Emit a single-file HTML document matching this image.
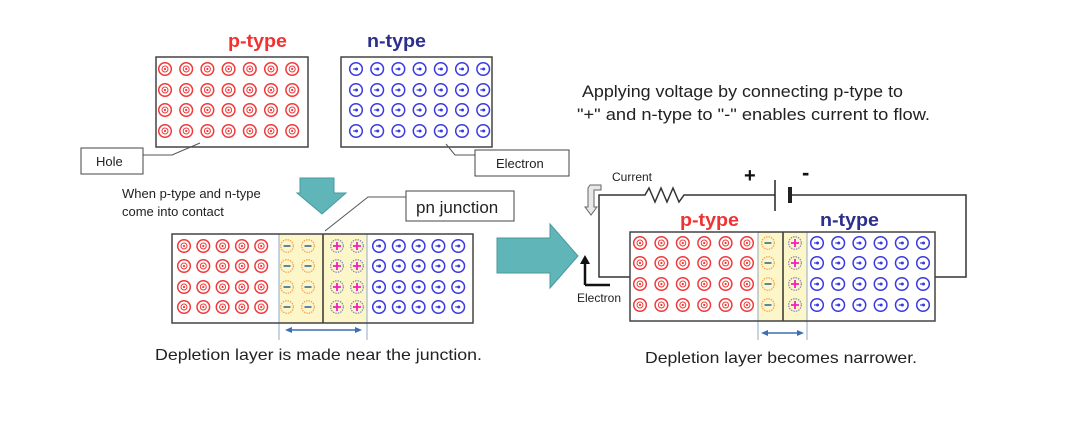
<!DOCTYPE html>
<html><head><meta charset="utf-8"><style>
html,body{margin:0;padding:0;background:#fff;}
svg{display:block;font-family:"Liberation Sans",sans-serif;}
</style></head><body>
<svg id="s" width="1086" height="424" viewBox="0 0 1086 424" xmlns="http://www.w3.org/2000/svg">
<rect width="1086" height="424" fill="#fff"/>
<!-- titles -->
<text x="228" y="47" font-size="18" font-weight="bold" fill="#f03232" textLength="59" lengthAdjust="spacingAndGlyphs">p-type</text>
<text x="367" y="47" font-size="18" font-weight="bold" fill="#2c2f8c" textLength="59" lengthAdjust="spacingAndGlyphs">n-type</text>
<!-- top boxes -->
<rect x="156" y="57" width="152" height="90" fill="#fff" stroke="#444" stroke-width="1.5"/>
<rect x="341" y="57" width="151" height="90" fill="#fff" stroke="#444" stroke-width="1.5"/>
<!-- Hole label -->
<polyline points="143,155 172,155 200,143" fill="none" stroke="#555" stroke-width="1"/>
<rect x="81" y="148" width="62" height="26" fill="#fff" stroke="#444" stroke-width="1"/>
<text x="96" y="166" font-size="13" fill="#222">Hole</text>
<!-- Electron label -->
<polyline points="475,155 455,155 446,144" fill="none" stroke="#555" stroke-width="1"/>
<rect x="475" y="150" width="94" height="26" fill="#fff" stroke="#444" stroke-width="1"/>
<text x="496" y="168" font-size="13" fill="#222">Electron</text>
<!-- down arrow -->
<polygon points="300,178 334,178 334,193 346,193 322,214 297,193 300,193" fill="#5fb5b8" stroke="#4a9a9e" stroke-width="1"/>
<text x="122" y="198" font-size="13" fill="#222">When p-type and n-type</text>
<text x="122" y="216" font-size="13" fill="#222">come into contact</text>
<!-- pn junction -->
<polyline points="406,197 368,197 325,231" fill="none" stroke="#555" stroke-width="1"/>
<rect x="406" y="191" width="108" height="30" fill="#fff" stroke="#444" stroke-width="1"/>
<text x="416" y="213" font-size="17" fill="#222">pn junction</text>
<!-- middle box -->
<rect x="279" y="234" width="88" height="89" fill="#fdf6c8"/>
<line x1="279" y1="234" x2="279" y2="340" stroke="#8fa8c8" stroke-width="1"/>
<line x1="367" y1="234" x2="367" y2="340" stroke="#8fa8c8" stroke-width="1"/>
<line x1="323" y1="234" x2="323" y2="323" stroke="#333" stroke-width="1.5"/>
<rect x="172" y="234" width="301" height="89" fill="none" stroke="#444" stroke-width="1.5"/>
<line x1="288" y1="330" x2="358" y2="330" stroke="#3d6fb0" stroke-width="1.5"/>
<polygon points="285,330 292,327 292,333" fill="#3d6fb0"/>
<polygon points="362,330 355,327 355,333" fill="#3d6fb0"/>
<text x="155" y="360" font-size="16" fill="#222" textLength="327" lengthAdjust="spacingAndGlyphs">Depletion layer is made near the junction.</text>
<!-- big right arrow -->
<polygon points="497,238 550,238 550,224 578,256 550,288 550,273 497,273" fill="#5fb5b8" stroke="#4a9a9e" stroke-width="1"/>
<!-- top right text -->
<text x="582" y="97" font-size="16.5" fill="#222" textLength="321" lengthAdjust="spacingAndGlyphs">Applying voltage by connecting p-type to</text>
<text x="577" y="120" font-size="16.5" fill="#222" textLength="353" lengthAdjust="spacingAndGlyphs">"+" and n-type to "-" enables current to flow.</text>
<!-- circuit -->
<polyline points="630,277 599,277 599,195 640,195" fill="none" stroke="#333" stroke-width="1.5"/>
<polyline points="640,195 645,195 649,188 655,202 661,188 667,202 673,188 679,202 684,195 775,195" fill="none" stroke="#333" stroke-width="1.5"/>
<polyline points="790,195 966,195 966,277 935,277" fill="none" stroke="#333" stroke-width="1.5"/>
<line x1="775" y1="180" x2="775" y2="211" stroke="#222" stroke-width="1.5"/>
<line x1="790" y1="187" x2="790" y2="203" stroke="#222" stroke-width="4"/>
<text x="744" y="182" font-size="20" font-weight="bold" fill="#111">+</text>
<text x="802" y="180" font-size="22" font-weight="bold" fill="#111">-</text>
<text x="612" y="181" font-size="12" fill="#222">Current</text>
<polygon points="590,185 601,185 601,190 594,190 594,207 597,207 591,215 585,207 588,207 588,188" fill="#e8e8e8" stroke="#666" stroke-width="1"/>
<polyline points="585,285 585,262" fill="none" stroke="#111" stroke-width="2.5"/>
<polyline points="585,285 610,285" fill="none" stroke="#111" stroke-width="2.5"/>
<polygon points="580,264 585,255 590,264" fill="#111"/>
<text x="577" y="302" font-size="12" fill="#222">Electron</text>
<text x="680" y="226" font-size="18" font-weight="bold" fill="#f03232" textLength="59" lengthAdjust="spacingAndGlyphs">p-type</text>
<text x="820" y="226" font-size="18" font-weight="bold" fill="#2c2f8c" textLength="59" lengthAdjust="spacingAndGlyphs">n-type</text>
<!-- right box -->
<rect x="758" y="232" width="49" height="89" fill="#fdf6c8"/>
<line x1="758" y1="232" x2="758" y2="340" stroke="#8fa8c8" stroke-width="1"/>
<line x1="807" y1="232" x2="807" y2="340" stroke="#8fa8c8" stroke-width="1"/>
<line x1="783" y1="232" x2="783" y2="321" stroke="#333" stroke-width="1.5"/>
<rect x="630" y="232" width="305" height="89" fill="none" stroke="#444" stroke-width="1.5"/>
<line x1="764" y1="333" x2="801" y2="333" stroke="#3d6fb0" stroke-width="1.5"/>
<polygon points="761,333 768,330 768,336" fill="#3d6fb0"/>
<polygon points="804,333 797,330 797,336" fill="#3d6fb0"/>
<text x="645" y="363" font-size="16" fill="#222" textLength="272" lengthAdjust="spacingAndGlyphs">Depletion layer becomes narrower.</text>
<g id="g"></g>
</svg>
<script>
var g=document.getElementById('g'),h='';
function hole(x,y){h+='<circle cx="'+x+'" cy="'+y+'" r="6.3" fill="#fff" stroke="#f03a3a" stroke-width="1.5"/><circle cx="'+x+'" cy="'+y+'" r="3" fill="none" stroke="#f03a3a" stroke-width="1"/><circle cx="'+x+'" cy="'+y+'" r="1.1" fill="#f03a3a"/>';}
function el(x,y){h+='<circle cx="'+x+'" cy="'+y+'" r="6.3" fill="#fff" stroke="#3a3ae0" stroke-width="1.5"/><path d="M'+(x-3)+' '+y+'h5" stroke="#3a3ae0" stroke-width="1.2"/><circle cx="'+(x+0.5)+'" cy="'+y+'" r="1.5" fill="#3a3ae0"/>';}
function mi(x,y){h+='<circle cx="'+x+'" cy="'+y+'" r="6.3" fill="none" stroke="#f0a050" stroke-width="1.2" stroke-dasharray="1.5,1"/><path d="M'+(x-3.5)+' '+y+'h7" stroke="#4a7aa0" stroke-width="1.8"/>';}
function pl(x,y){h+='<circle cx="'+x+'" cy="'+y+'" r="6.3" fill="none" stroke="#8088b0" stroke-width="1.2" stroke-dasharray="1.5,1"/><path d="M'+(x-4)+' '+y+'h8M'+x+' '+(y-4)+'v8" stroke="#f020c0" stroke-width="1.8"/>';}
var r1=[69,90,110,131],i,j;
for(j=0;j<4;j++)for(i=0;i<7;i++){hole(165+i*21.2,r1[j]);el(356+i*21.2,r1[j]);}
var r2=[246,266,287,307];
for(j=0;j<4;j++){for(i=0;i<5;i++){hole(184+i*19.3,r2[j]);el(379+i*19.8,r2[j]);}mi(287,r2[j]);mi(308,r2[j]);pl(337,r2[j]);pl(357,r2[j]);}
var r3=[243,263,284,305];
for(j=0;j<4;j++){for(i=0;i<6;i++){hole(640+i*21.4,r3[j]);el(817+i*21.2,r3[j]);}mi(768,r3[j]);pl(795,r3[j]);}
g.innerHTML=h;
</script>
</body></html>
